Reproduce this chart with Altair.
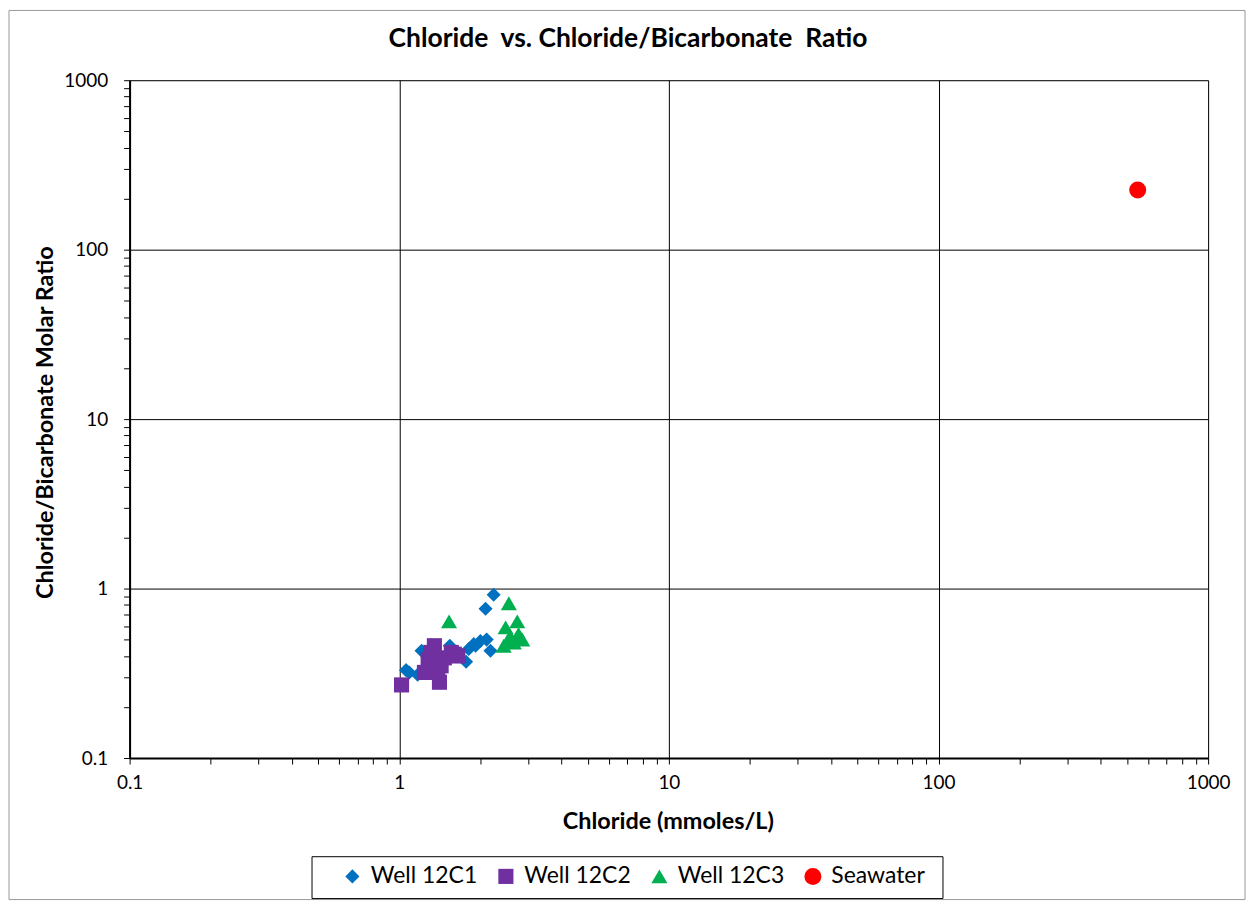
import altair as alt
import pandas as pd

series_names = ["Well 12C1", "Well 12C2", "Well 12C3", "Seawater"]
series_colors = ["#0070C0", "#7030A0", "#00B050", "#FF0000"]
series_shapes = ["diamond", "square", "triangle-up", "circle"]

w1_x = [2.24, 2.09, 1.89, 2.00, 2.11, 2.18, 1.81, 1.06, 1.21, 1.54, 1.77, 1.17, 1.09, 1.92]
w1_y = [0.92, 0.76, 0.47, 0.49, 0.50, 0.43, 0.44, 0.33, 0.43, 0.46, 0.37, 0.31, 0.32, 0.46]

w2_x = [1.02, 1.41, 1.35, 1.56, 1.28, 1.24, 1.43, 1.65, 1.31, 1.39, 1.60, 1.33, 1.47]
w2_y = [0.27, 0.28, 0.46, 0.42, 0.38, 0.32, 0.35, 0.40, 0.42, 0.32, 0.41, 0.37, 0.39]

w3_x = [1.53, 2.55, 2.48, 2.74, 2.77, 2.52, 2.66, 2.86, 2.58, 2.44]
w3_y = [0.64, 0.82, 0.59, 0.64, 0.54, 0.49, 0.48, 0.50, 0.52, 0.46]

sw_x = [548]
sw_y = [225]

rows = []
for name, xs, ys in zip(series_names, [w1_x, w2_x, w3_x, sw_x], [w1_y, w2_y, w3_y, sw_y]):
    for a, b in zip(xs, ys):
        rows.append({"Series": name, "Chloride": a, "Ratio": b})
df = pd.DataFrame(rows)

decades = [0.1, 1, 10, 100, 1000]
ticks = []
for d in decades[:-1]:
    for m in range(1, 10):
        ticks.append(round(d * m, 6))
ticks.append(1000)

is_decade = "abs(log(datum.value)/LN10 - round(log(datum.value)/LN10)) < 0.001"
label_expr = f"({is_decade}) ? format(datum.value, '~g') : ''"
grid_op = {"condition": {"test": is_decade, "value": 1}, "value": 0}

FONT = "Lato"
W, H = 1082, 680
NB = "\u00a0"

x_axis = alt.Axis(values=ticks, labelExpr=label_expr, grid=True, gridColor="black",
                  gridOpacity=grid_op, gridWidth=1, tickColor="black", tickSize=6,
                  domainColor="black", domainWidth=2, labelFont=FONT, labelFontSize=19,
                  labelColor="black", labelPadding=10, labelFlush=False,
                  title="Chloride (mmoles/L)", titleFont=FONT, titleFontSize=23.5,
                  titleFontWeight="bold", titleColor="black", titleX=W / 2 - 1,
                  titleY=64, titleBaseline="middle", titleAlign="center")
y_axis = alt.Axis(values=ticks, labelExpr=label_expr, grid=True, gridColor="black",
                  gridOpacity=grid_op, gridWidth=1, tickColor="black", tickSize=6,
                  domainColor="black", domainWidth=2, labelFont=FONT, labelFontSize=19,
                  labelColor="black", labelPadding=16, labelFlush=False,
                  title="Chloride/Bicarbonate Molar Ratio", titleFont=FONT, titleFontSize=23.5,
                  titleFontWeight="bold", titleColor="black", titleX=-84, titleY=H / 2 + 3,
                  titleAngle=-90, titleBaseline="middle", titleAlign="center")

deco = pd.DataFrame({"k": [0]})
frame = alt.Chart(deco).mark_rect(
    fill=None, stroke="#999999", strokeWidth=1, clip=False
).encode(x=alt.value(-121), x2=alt.value(W + 37), y=alt.value(-70), y2=alt.value(H + 142))

legend_box = alt.Chart(deco).mark_rect(
    fill="white", stroke="black", strokeWidth=1, clip=False
).encode(x=alt.value(183), x2=alt.value(816), y=alt.value(779), y2=alt.value(821))

title_txt = alt.Chart(deco).mark_text(
    text=f"Chloride{NB} vs. Chloride/Bicarbonate{NB} Ratio", font=FONT, fontSize=26.5,
    fontWeight="bold", color="black", align="center", baseline="middle", clip=False
).encode(x=alt.value(500), y=alt.value(-41))

points = alt.Chart(df).mark_point(filled=True, opacity=1, strokeWidth=0).encode(
    x=alt.X("Chloride:Q", scale=alt.Scale(type="log", domain=[0.1, 1000], nice=False), axis=x_axis),
    y=alt.Y("Ratio:Q", scale=alt.Scale(type="log", domain=[0.1, 1000], nice=False), axis=y_axis),
    color=alt.Color("Series:N", scale=alt.Scale(domain=series_names, range=series_colors),
                    legend=alt.Legend(title=None, orient="none", legendX=212, legendY=787,
                                      direction="horizontal", columns=4,
                                      labelFont=FONT, labelFontSize=23, labelColor="black",
                                      symbolSize=190, symbolStrokeWidth=0, labelLimit=300,
                                      columnPadding=17, padding=0, labelOffset=7, offset=0)),
    shape=alt.Shape("Series:N", scale=alt.Scale(domain=series_names, range=series_shapes)),
    size=alt.Size("Series:N", scale=alt.Scale(domain=series_names, range=[200, 290, 230, 400]),
                  legend=None),
)

chart = alt.layer(frame, legend_box, title_txt, points).properties(
    width=W, height=H,
    padding={"left": 122, "top": 71, "right": 38, "bottom": 144},
    autosize=alt.AutoSizeParams(type="none"),
).configure_view(stroke="black", strokeWidth=1).configure(background="white")

chart.save("out.html", embed_options={"renderer": "svg", "actions": False})
